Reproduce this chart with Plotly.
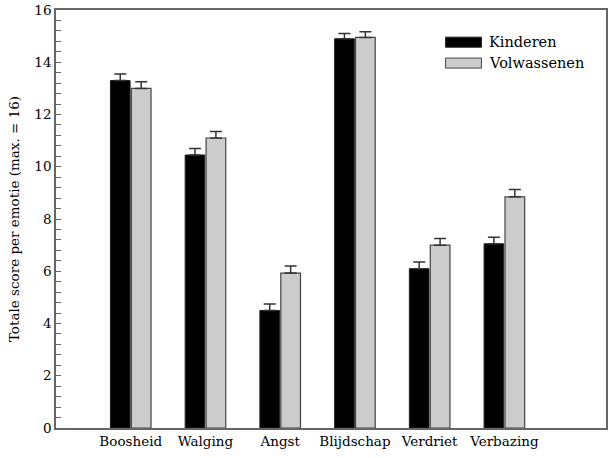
import plotly.graph_objects as go

categories = ["Boosheid", "Walging", "Angst", "Blijdschap", "Verdriet", "Verbazing"]
kinderen = [13.3, 10.45, 4.5, 14.9, 6.1, 7.05]
kinderen_err = [0.25, 0.25, 0.25, 0.2, 0.25, 0.25]
volwassenen = [13.0, 11.1, 5.93, 14.95, 7.0, 8.85]
volwassenen_err = [0.25, 0.25, 0.27, 0.22, 0.25, 0.28]
series_names = ["Kinderen", "Volwassenen"]
y_ticks = [0, 2, 4, 6, 8, 10, 12, 14, 16]

FONT = "DejaVu Serif"
x = list(range(len(categories)))

fig = go.Figure()
fig.add_trace(go.Bar(
    x=x, y=kinderen, name=series_names[0],
    marker=dict(color="black", line=dict(color="#222222", width=1)),
    error_y=dict(type="data", array=kinderen_err, arrayminus=[0]*6, symmetric=False,
                 color="#333333", thickness=1.5, width=6),
    showlegend=False,
))
fig.add_trace(go.Bar(
    x=x, y=volwassenen, name=series_names[1],
    marker=dict(color="#cccccc", line=dict(color="#444444", width=1.2)),
    error_y=dict(type="data", array=volwassenen_err, arrayminus=[0]*6, symmetric=False,
                 color="#333333", thickness=1.5, width=6),
    showlegend=False,
))

# custom legend (wide swatches)
legend_items = [(series_names[0], "black", "#222222", 0.923), (series_names[1], "#cccccc", "#444444", 0.873)]
for name, fill, line, yc in legend_items:
    fig.add_shape(type="rect", xref="paper", yref="paper",
                  x0=(447-56)/552, x1=(483-56)/552, y0=yc-0.012, y1=yc+0.012,
                  fillcolor=fill, line=dict(color=line, width=1))
    fig.add_annotation(xref="paper", yref="paper", x=(489-56)/552, y=yc, text=name,
                       showarrow=False, xanchor="left", yanchor="middle",
                       font=dict(family=FONT, size=14.5, color="black"))

fig.update_layout(
    width=610, height=458,
    margin=dict(l=56, r=2, t=10, b=30),
    plot_bgcolor="white", paper_bgcolor="white",
    barmode="group", bargap=0.44, bargroupgap=0.06,
    font=dict(family=FONT, size=13.5, color="black"),
    xaxis=dict(
        tickmode="array", tickvals=x, ticktext=categories,
        range=[-1, 6.36], showgrid=False, zeroline=False,
        showline=True, linecolor="#666666", linewidth=1.5, mirror=True,
        ticks="", tickfont=dict(family=FONT, size=13.5),
    ),
    yaxis=dict(
        range=[0, 16], tickmode="array", tickvals=y_ticks,
        showgrid=False, zeroline=False,
        showline=True, linecolor="#666666", linewidth=1.5, mirror=True,
        ticks="inside", ticklen=5, tickcolor="#666666", tickwidth=1,
        minor=dict(dtick=0.4, ticks="inside", ticklen=5, tickcolor="#666666", tickwidth=1),
        tickfont=dict(family=FONT, size=13.5),
        title=dict(text="Totale score per emotie (max. = 16)", font=dict(family=FONT, size=13.5), standoff=12),
    ),
)

fig.write_html("out.html", config={"displayModeBar": False},
               post_script="document.body.style.margin='0';document.body.style.padding='0';")
